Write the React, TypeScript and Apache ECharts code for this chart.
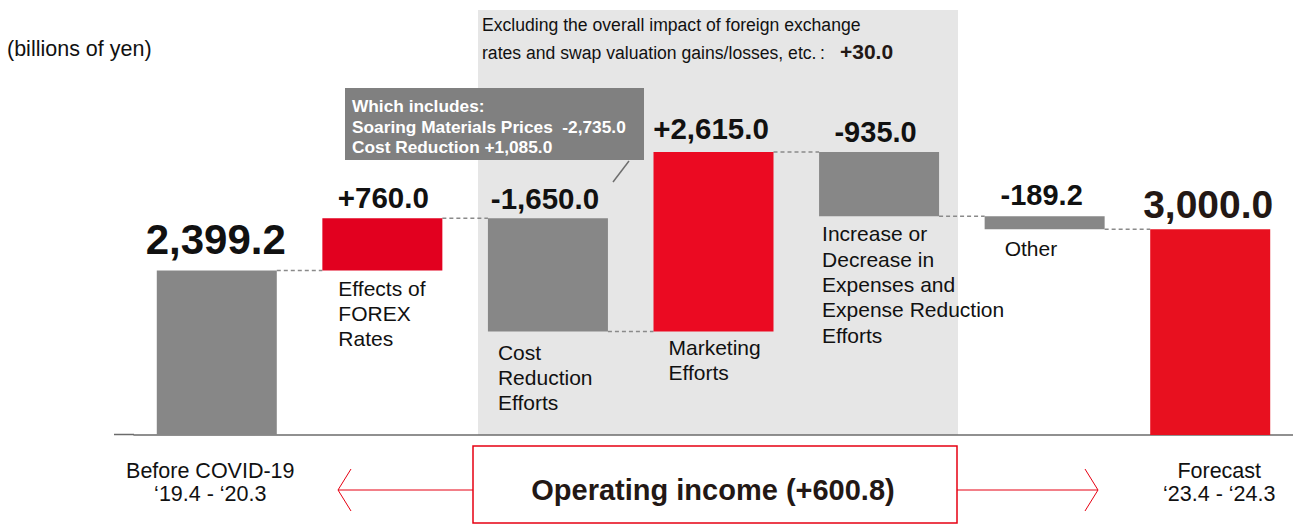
import React, { useEffect, useRef } from "react";
import * as echarts from "echarts";

const categories = [
  "Before COVID-19",
  "Effects of FOREX Rates",
  "Cost Reduction Efforts",
  "Marketing Efforts",
  "Increase or Decrease in Expenses and Expense Reduction Efforts",
  "Other",
  "Forecast",
];
const categoryLabels = [
  "",
  "Effects of\nFOREX\nRates",
  "Cost\nReduction\nEfforts",
  "Marketing\nEfforts",
  "Increase or\nDecrease in\nExpenses and\nExpense Reduction\nEfforts",
  "Other",
  "",
];
const axisTexts = [
  "{a|Before COVID-19}\n{a|‘19.4 - ‘20.3}",
  "",
  "",
  "",
  "",
  "",
  "{b|Forecast}\n{b|‘23.4 - ‘24.3}",
];
// change per step; first and last are totals
const values = [2399.2, 760.0, -1650.0, 2615.0, -935.0, -189.2, 3000.0];
const isTotal = [true, false, false, false, false, false, true];
const valueLabels = ["2,399.2", "+760.0", "-1,650.0", "+2,615.0", "-935.0", "-189.2", "3,000.0"];
const noteLines = [
  "Which includes:",
  "Soaring Materials Prices  -2,735.0",
  "Cost Reduction +1,085.0",
];
const excludingLines = [
  "Excluding the overall impact of foreign exchange",
  "rates and swap valuation gains/losses, etc.\u202F:",
];
const excludingValue = "+30.0";
const operatingText = "Operating income (+600.8)";
const unitText = "(billions of yen)";

const GRAY = "#878787";

export default function App() {
  const ref = useRef<HTMLDivElement>(null);
  useEffect(() => {
    if (!ref.current) return;
    const chart = echarts.init(ref.current, undefined, { renderer: "svg" });

    // waterfall computation
    const base: number[] = [];
    const height: number[] = [];
    const levelsAfter: number[] = [];
    let cum = 0;
    values.forEach((v, i) => {
      if (isTotal[i]) {
        base.push(0);
        height.push(v);
        cum = v;
      } else {
        const next = cum + v;
        base.push(Math.min(cum, next));
        height.push(Math.abs(v));
        cum = next;
      }
      levelsAfter.push(cum);
    });
    // connectors: from bar i to bar i+1 at the level after bar i
    const connectors = levelsAfter.slice(0, -1).map((lv, i) => [i, lv]);

    const valueFont = [42, 29.5, 29.5, 29.5, 29, 29, 39];
    const valueDist = [9.5, 5.5, 4.5, 8.5, 5.5, 6.5, 5];
    const valueOffsetX = [-1, 1, -3, -2.5, -3.5, -3, -2];
    const catOffsets = [
      [0, 0],
      [16, 5],
      [10, 8],
      [15, 3],
      [3, 5],
      [20, 7],
      [0, 0],
    ];
    const barColors = [GRAY, "#e2001f", GRAY, "#eb0a22", GRAY, GRAY, "#e8101f"];

    const font = "'Liberation Sans', Arial, sans-serif";

    chart.setOption({
      animation: false,
      grid: { left: 134, width: 1162, top: 92, bottom: 90 },
      xAxis: {
        type: "category",
        data: categories,
        axisLine: { lineStyle: { color: "#6b6b6b", width: 1.5 } },
        axisTick: { show: false },
        axisLabel: {
          interval: 0,
          margin: 24,
          fontSize: 21.5,
          lineHeight: 23,
          color: "#111",
          fontFamily: font,
          formatter: (_v: string, idx: number) => axisTexts[idx],
          rich: {
            a: { fontSize: 21.5, lineHeight: 23, color: "#111", fontFamily: font, padding: [0, 13, 0, 0] },
            b: { fontSize: 21.5, lineHeight: 23, color: "#111", fontFamily: font, padding: [0, 0, 0, 18] },
          },
        },
      },
      yAxis: { type: "value", min: 0, max: 5000, show: false },
      series: [
        {
          type: "bar",
          stack: "w",
          barWidth: 120,
          silent: true,
          itemStyle: { color: "transparent" },
          data: base.map((b, i) => ({
            value: b,
            label: {
              show: categoryLabels[i] !== "",
              formatter: categoryLabels[i],
              position: catOffsets[i],
              align: "left",
              verticalAlign: "top",
              fontSize: 21,
              lineHeight: 25.3,
              color: "#111",
              fontFamily: font,
            },
          })),
        },
        {
          type: "bar",
          stack: "w",
          barWidth: 120,
          data: height.map((h, i) => ({
            value: h,
            itemStyle: { color: barColors[i] },
            label: {
              show: true,
              position: "top",
              distance: valueDist[i],
              offset: [valueOffsetX[i], 0],
              formatter: valueLabels[i],
              fontSize: valueFont[i],
              fontWeight: "bold",
              color: i === 6 ? "#231815" : "#111",
              fontFamily: font,
            },
          })),
        },
        {
          type: "custom",
          silent: true,
          data: connectors,
          renderItem: (_params: any, api: any) => {
            const p = api.coord([api.value(0), api.value(1)]);
            const band = api.size([1, 0])[0];
            return {
              type: "line",
              shape: { x1: p[0] + 60, y1: p[1], x2: p[0] + band - 60, y2: p[1] },
              style: { stroke: "#8a8a8a", lineWidth: 1.5, lineDash: [4, 3] },
            };
          },
        },
      ],
      graphic: [
        {
          type: "rect",
          z: -10,
          shape: { x: 478, y: 10, width: 480, height: 425 },
          style: { fill: "#e6e6e6" },
        },
        {
          type: "line",
          shape: { x1: 114, y1: 434.5, x2: 134, y2: 434.5 },
          style: { stroke: "#6b6b6b", lineWidth: 1.5 },
        },
        {
          type: "text",
          x: 7,
          y: 49,
          style: { text: unitText, fontSize: 21.5, fontFamily: font, fill: "#111", verticalAlign: "middle" },
        },
        {
          type: "text",
          x: 482,
          y: 25,
          style: { text: excludingLines[0], fontSize: 17.6, fontFamily: font, fill: "#111", verticalAlign: "middle" },
        },
        {
          type: "text",
          x: 482,
          y: 53,
          style: { text: excludingLines[1], fontSize: 17.6, fontFamily: font, fill: "#111", verticalAlign: "middle" },
        },
        {
          type: "text",
          x: 840,
          y: 51,
          style: {
            text: excludingValue,
            fontSize: 21,
            fontWeight: "bold",
            fontFamily: font,
            fill: "#231815",
            verticalAlign: "middle",
          },
        },
        {
          type: "rect",
          z: 10,
          shape: { x: 345, y: 88, width: 299, height: 72 },
          style: { fill: "#808080" },
        },
        ...noteLines.map((t, i) => ({
          type: "text",
          z: 11,
          x: 352,
          y: 106 + i * 20.5,
          style: {
            text: t,
            fontSize: 17.3,
            fontWeight: "bold",
            fontFamily: font,
            fill: "#ffffff",
            verticalAlign: "middle",
          },
        })),
        {
          type: "line",
          z: 10,
          shape: { x1: 629, y1: 161, x2: 613, y2: 182 },
          style: { stroke: "#6e6e6e", lineWidth: 1.5 },
        },
        {
          type: "rect",
          shape: { x: 473, y: 446, width: 484, height: 77 },
          style: { fill: "#ffffff", stroke: "#e60012", lineWidth: 1.5 },
        },
        {
          type: "text",
          x: 713,
          y: 490,
          style: {
            text: operatingText,
            fontSize: 29,
            fontWeight: "bold",
            fontFamily: font,
            fill: "#231815",
            align: "center",
            verticalAlign: "middle",
          },
        },
        {
          type: "line",
          shape: { x1: 473, y1: 490, x2: 338, y2: 490 },
          style: { stroke: "#e60012", lineWidth: 1 },
        },
        {
          type: "polyline",
          shape: { points: [[351, 469], [338, 490], [351, 511]] },
          style: { stroke: "#e60012", lineWidth: 1, fill: "none" },
        },
        {
          type: "line",
          shape: { x1: 957, y1: 490, x2: 1098, y2: 490 },
          style: { stroke: "#e60012", lineWidth: 1 },
        },
        {
          type: "polyline",
          shape: { points: [[1085, 469], [1098, 490], [1085, 511]] },
          style: { stroke: "#e60012", lineWidth: 1, fill: "none" },
        },
      ],
    });
    return () => chart.dispose();
  }, []);
  return (
    <div
      ref={ref}
      style={{ position: "absolute", left: 0, top: 0, width: 1293, height: 525, background: "#fff" }}
    />
  );
}
